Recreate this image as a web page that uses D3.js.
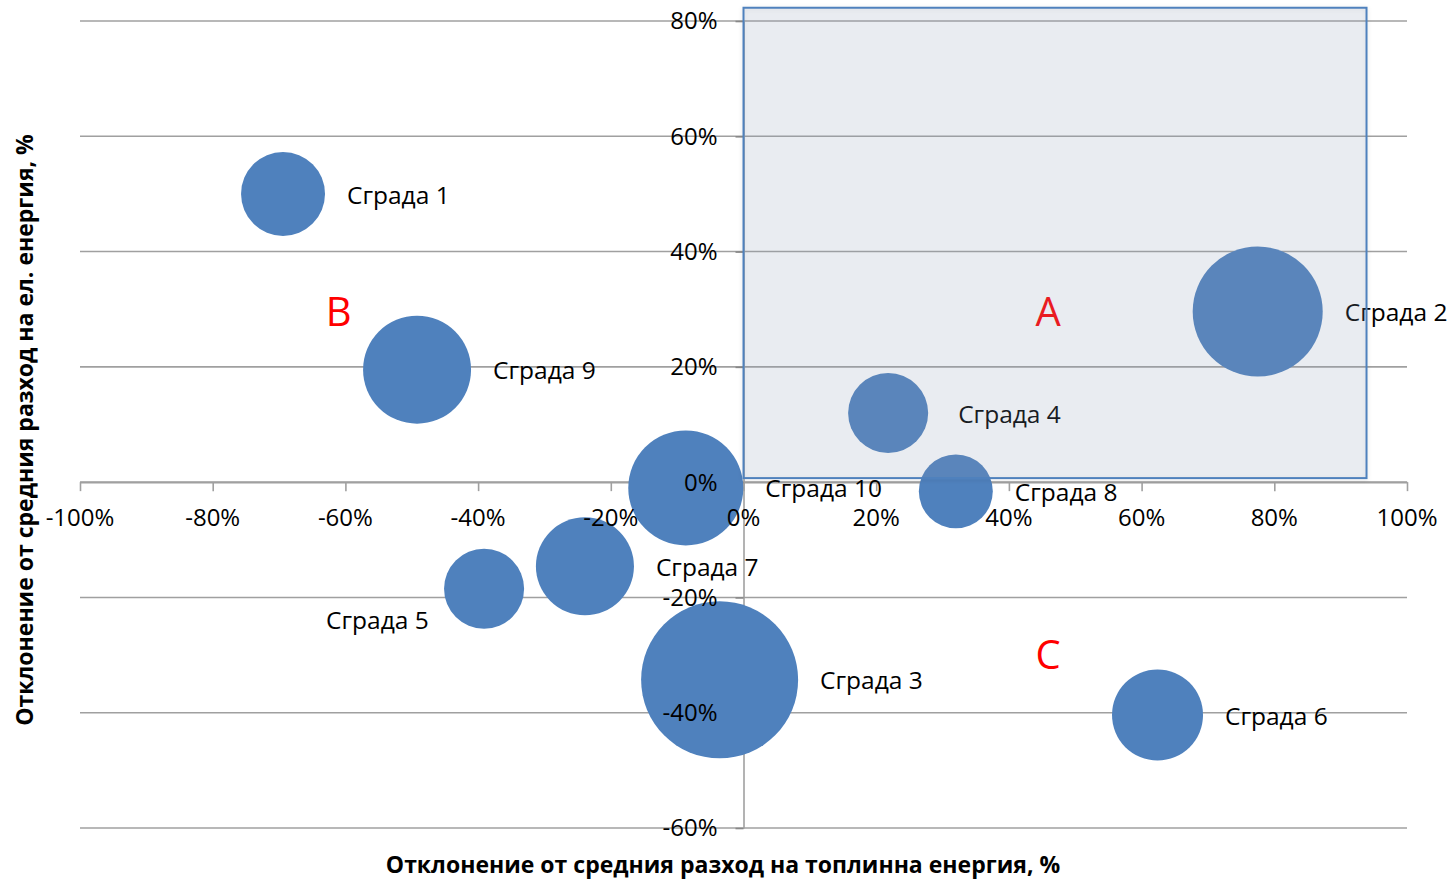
<!DOCTYPE html>
<html>
<head>
<meta charset="utf-8">
<script src="https://cdn.jsdelivr.net/npm/d3@7/dist/d3.min.js"></script>
<style>
  html, body { margin: 0; padding: 0; background: #fff; }
  svg { display: block; font-family: "Open Sans", "Noto Sans", sans-serif; }
</style>
</head>
<body>
<svg id="chart" width="1453" height="880"></svg>
<script>
// ---- data ----
const buildings = ["Сграда 1", "Сграда 9", "Сграда 2", "Сграда 4", "Сграда 8", "Сграда 10", "Сграда 7", "Сграда 5", "Сграда 3", "Сграда 6"];
const heatDeviation = [-69.4, -49.2, 77.5, 21.8, 32.0, -8.7, -23.9, -39.1, -3.6, 62.4];   // x, %
const elecDeviation = [50.0, 19.5, 29.6, 12.0, -1.6, -1.0, -14.6, -18.5, -34.3, -40.4]; // y, %
const bubbleSize   = [28.6, 47.3, 68.6, 26.0, 22.2, 53.7, 39.0, 26.0, 100, 33.6];
const xTicks = [-100, -80, -60, -40, -20, 0, 20, 40, 60, 80, 100];
const yTicks = [-60, -40, -20, 0, 20, 40, 60, 80];
const zoneLabels = ["A", "B", "C"];
const zoneX = [45.9, -61.0, 45.9];
const zoneY = [29.6, 29.6, -30.0];
const zoneA = { x0: 0, x1: 93.9, y0: 0.7, y1: 82.3 };
const xTitle = "Отклонение от средния разход на топлинна енергия, %";
const yTitle = "Отклонение от средния разход на ел. енергия, %";

// ---- layout ----
const svg = d3.select("#chart");
const plot = { left: 80, right: 1407, top: 21, bottom: 828 };
const x = d3.scaleLinear().domain([-100, 100]).range([plot.left, plot.right]);
const y = d3.scaleLinear().domain([-60, 80]).range([plot.bottom, plot.top]);
const r = d3.scaleSqrt().domain([0, d3.max(bubbleSize)]).range([0, 78.5]);
const fmt = d => d + "%";
const gridColor = "#a0a0a0";

// gridlines
svg.append("g").selectAll("line").data(yTicks).join("line")
  .attr("x1", plot.left).attr("x2", plot.right)
  .attr("y1", d => y(d)).attr("y2", d => y(d))
  .attr("stroke", gridColor).attr("stroke-width", 1.6);

// x axis at y=0
const xAxis = svg.append("g").attr("transform", `translate(0,${y(0)})`)
  .call(d3.axisBottom(x).tickValues(xTicks).tickFormat(fmt).tickSize(9).tickSizeOuter(0));
xAxis.select(".domain").attr("stroke", gridColor).attr("stroke-width", 1.6);
xAxis.selectAll(".tick line").attr("stroke", gridColor).attr("stroke-width", 1.6);
xAxis.selectAll(".tick text").remove();

// y axis at x=0
const yAxis = svg.append("g").attr("transform", `translate(${x(0)},0)`)
  .call(d3.axisLeft(y).tickValues(yTicks).tickFormat(fmt).tickSize(8).tickSizeOuter(0));
yAxis.select(".domain").attr("stroke", gridColor).attr("stroke-width", 1.6);
yAxis.selectAll(".tick line").attr("stroke", "#888").attr("stroke-width", 1.6);
yAxis.selectAll(".tick text").remove();

// bubbles
const pts = buildings.map((name, i) => ({ name, x: heatDeviation[i], y: elecDeviation[i], s: bubbleSize[i] }));
svg.append("g").selectAll("circle").data(pts).join("circle")
  .attr("cx", d => x(d.x)).attr("cy", d => y(d.y)).attr("r", d => r(d.s))
  .attr("fill", "#4f81bd");

// bubble labels (Excel "right" placement; two labels were moved by hand in the original)
const labelFont = 24.5;
function labelX(d) {
  if (d.name === "Сграда 5") return x(d.x) - 158;
  if (d.name === "Сграда 4") return x(d.x) + r(d.s) + 30;
  return x(d.x) + r(d.s) + 22;
}
svg.append("g").selectAll("text").data(pts).join("text")
  .attr("x", labelX)
  .attr("y", d => d.name === "Сграда 5" ? y(d.y) + 32 : y(d.y) + 1)
  .attr("dy", "0.35em")
  .attr("font-size", labelFont).attr("fill", "#000")
  .text(d => d.name);

// tick labels (drawn over bubbles)
svg.append("g").selectAll("text").data(xTicks).join("text")
  .attr("x", d => x(d)).attr("y", y(0) + 35).attr("dy", "0.35em")
  .attr("text-anchor", "middle").attr("font-size", 24).attr("fill", "#000")
  .text(fmt);
svg.append("g").selectAll("text").data(yTicks).join("text")
  .attr("x", x(0) - 26).attr("y", d => y(d)).attr("dy", "0.35em")
  .attr("text-anchor", "end").attr("font-size", 24).attr("fill", "#000")
  .text(fmt);

// zone letters
svg.append("g").selectAll("text").data(zoneLabels).join("text")
  .attr("x", (d, i) => x(zoneX[i])).attr("y", (d, i) => y(zoneY[i])).attr("dy", "0.36em")
  .attr("text-anchor", "middle").attr("font-size", 40).attr("fill", "#ff0000")
  .text(d => d);

// zone A rectangle (overlay, on top)
const defs = svg.append("defs");
const f = defs.append("filter").attr("id", "sh").attr("x", "-5%").attr("y", "-5%").attr("width", "110%").attr("height", "110%");
f.append("feDropShadow").attr("dx", 0).attr("dy", 1).attr("stdDeviation", 2).attr("flood-color", "#000").attr("flood-opacity", 0.12);
svg.append("rect")
  .attr("x", x(zoneA.x0)).attr("y", y(zoneA.y1))
  .attr("width", x(zoneA.x1) - x(zoneA.x0)).attr("height", y(zoneA.y0) - y(zoneA.y1))
  .attr("fill", "rgba(141,162,182,0.17)")
  .attr("stroke", "#4f81bd").attr("stroke-width", 2)
  .attr("filter", "url(#sh)");

// axis titles
svg.append("text")
  .attr("x", 723).attr("y", 865).attr("dy", "0.35em")
  .attr("text-anchor", "middle").attr("font-size", 23).attr("font-weight", "bold").attr("fill", "#000")
  .text(xTitle);
svg.append("text")
  .attr("transform", `translate(25,430) rotate(-90)`).attr("dy", "0.35em")
  .attr("text-anchor", "middle").attr("font-size", 23).attr("font-weight", "bold").attr("fill", "#000")
  .text(yTitle);
</script>
</body>
</html>
